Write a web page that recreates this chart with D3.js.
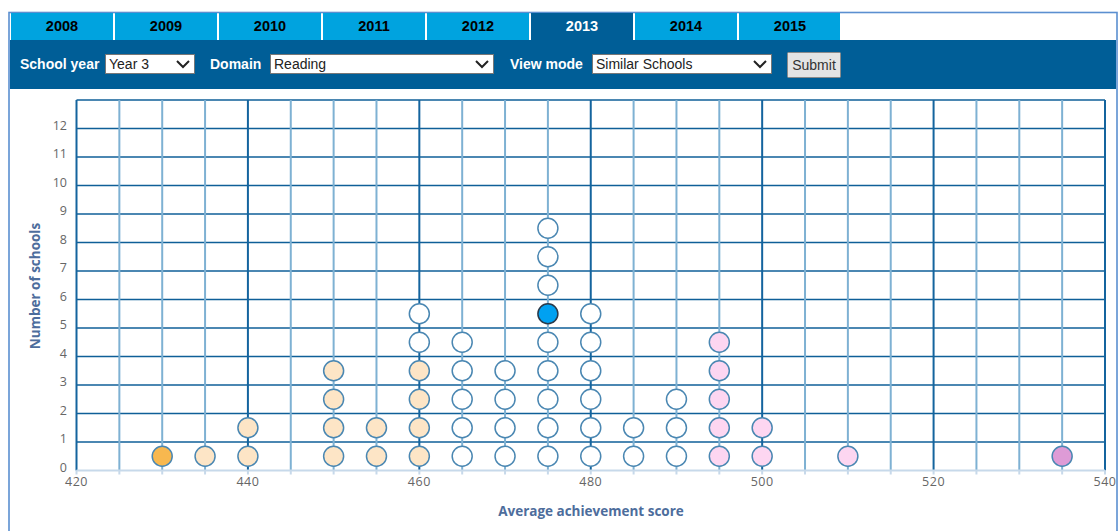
<html>
<head>
<title>Similar schools - Reading</title>
<style>
  body { margin: 0; background: #fff; }
  svg { display: block; }
</style>
</head>
<body>
<svg id="chart" width="1120" height="531"></svg>
<script src="https://cdnjs.cloudflare.com/ajax/libs/d3/7.8.5/d3.min.js"></script>
<script>
// tabs and filters
var years = ["2008","2009","2010","2011","2012","2013","2014","2015"];
var selectedYear = "2013";
var filterLabels = ["School year","Domain","View mode"];
var filterValues = ["Year 3","Reading","Similar Schools"];

// one column per score, circles stacked from the lowest band upward
var scores    = [430,435,440,450,455,460,465,470,475,480,485,490,495,500,510,535];
var wellBelow = [1,  0,  0,  0,  0,  0,  0,  0,  0,  0,  0,  0,  0,  0,  0,  0];
var below     = [0,  1,  2,  4,  2,  4,  0,  0,  0,  0,  0,  0,  0,  0,  0,  0];
var similar   = [0,  0,  0,  0,  0,  2,  5,  4,  9,  6,  2,  3,  0,  0,  0,  0];
var above     = [0,  0,  0,  0,  0,  0,  0,  0,  0,  0,  0,  0,  5,  2,  1,  0];
var wellAbove = [0,  0,  0,  0,  0,  0,  0,  0,  0,  0,  0,  0,  0,  0,  0,  1];
var thisSchoolScore = 475, thisSchoolRow = 6;

var xTicks = [420,440,460,480,500,520,540];
var yTicks = [0,1,2,3,4,5,6,7,8,9,10,11,12];

var bands = [
  {name: "wellBelow", counts: wellBelow, fill: "#f8b84f"},
  {name: "below",     counts: below,     fill: "#fde5c6"},
  {name: "similar",   counts: similar,   fill: "#ffffff"},
  {name: "above",     counts: above,     fill: "#fdd6f1"},
  {name: "wellAbove", counts: wellAbove, fill: "#de9bd6"}
];

var svg = d3.select("#chart");
var dark = "#005e97", light = "#00a3df";

// ---- widget frame, tabs, filter bar
svg.append("rect").attr("x", 9).attr("y", 12.5).attr("width", 1108).attr("height", 540)
  .attr("fill", "#fff").attr("stroke", "#5b8fd0").attr("stroke-width", 1.6);

var tabs = svg.selectAll("g.tab").data(years).enter().append("g").attr("class", "tab")
  .attr("transform", function(d, i) { return "translate(" + (11 + i * 104) + ",13)"; });
tabs.append("rect").attr("width", function(d, i) { return i == years.length - 1 ? 101 : 102; }).attr("height", 27)
  .attr("fill", function(d) { return d == selectedYear ? dark : light; });
tabs.append("text").attr("x", 51).attr("y", 18).attr("text-anchor", "middle")
  .style("font", "bold 14.5px 'Liberation Sans', Arial, sans-serif")
  .attr("fill", function(d) { return d == selectedYear ? "#fff" : "#000"; })
  .text(function(d) { return d; });

svg.append("rect").attr("x", 10).attr("y", 40).attr("width", 1106).attr("height", 49).attr("fill", dark);

var labelX = [20, 210, 510];
var boxX = [105, 270, 592], boxW = [89, 223, 179];
filterLabels.forEach(function(l, i) {
  svg.append("text").attr("x", labelX[i]).attr("y", 69)
    .style("font", "bold 14px 'Liberation Sans', Arial, sans-serif").attr("fill", "#fff").text(l);
  svg.append("rect").attr("x", boxX[i] + 0.5).attr("y", 54.5).attr("width", boxW[i]).attr("height", 19)
    .attr("fill", "#fff").attr("stroke", "#777");
  svg.append("text").attr("x", boxX[i] + 4).attr("y", 69)
    .style("font", "14px 'Liberation Sans', Arial, sans-serif").attr("fill", "#222").text(filterValues[i]);
  var cx = boxX[i] + boxW[i] - 11;
  svg.append("path").attr("d", "M" + (cx - 6) + ",61 L" + cx + ",67 L" + (cx + 6) + ",61")
    .attr("fill", "none").attr("stroke", "#222").attr("stroke-width", 2);
});
svg.append("rect").attr("x", 787.5).attr("y", 52.5).attr("width", 53).attr("height", 25).attr("rx", 1)
  .attr("fill", "#e4e4e4").attr("stroke", "#8a8a8a");
svg.append("text").attr("x", 814).attr("y", 70).attr("text-anchor", "middle")
  .style("font", "14px 'Liberation Sans', Arial, sans-serif").attr("fill", "#333").text("Submit");

// ---- chart
var x = d3.scaleLinear().domain([420, 540]).range([76.5, 1105]);
var y = d3.scaleLinear().domain([0, 13]).range([470.5, 100]);

var grid = svg.append("g");
grid.selectAll("line.h").data(d3.range(1, 14)).enter().append("line")
  .attr("x1", x(420)).attr("x2", x(540)).attr("y1", function(d) { return y(d); }).attr("y2", function(d) { return y(d); })
  .attr("stroke", "#0f5f98").attr("stroke-width", 1.5);
grid.selectAll("line.v").data(d3.range(420, 541, 5)).enter().append("line")
  .attr("x1", function(d) { return x(d); }).attr("x2", function(d) { return x(d); })
  .attr("y1", y(13)).attr("y2", y(0))
  .attr("stroke", function(d) { return (d % 20 == 0) ? "#14649e" : "#7eb1d3"; })
  .attr("stroke-width", 2);
grid.selectAll("line.t").data(d3.range(420, 541, 5)).enter().append("line")
  .attr("x1", function(d) { return x(d); }).attr("x2", function(d) { return x(d); })
  .attr("y1", y(0)).attr("y2", y(0) + 4).attr("stroke", "#c7d9ea").attr("stroke-width", 2);
grid.append("line").attr("x1", x(420)).attr("x2", x(540)).attr("y1", y(0)).attr("y2", y(0))
  .attr("stroke", "#c7d9ea").attr("stroke-width", 2);

var tickFont = "12.5px 'Open Sans', sans-serif";
svg.selectAll("text.yt").data(yTicks).enter().append("text")
  .attr("x", 67).attr("y", function(d) { return y(d) - 2; }).attr("text-anchor", "end").attr("dominant-baseline", "middle")
  .style("font", tickFont).attr("fill", "#666").text(function(d) { return d; });
svg.selectAll("text.xt").data(xTicks).enter().append("text")
  .attr("x", function(d) { return x(d); }).attr("y", 486).attr("text-anchor", "middle")
  .style("font", tickFont).style("letter-spacing", "0.5px").attr("fill", "#666").text(function(d) { return d; });

var titleFont = "bold 13.5px 'Open Sans', sans-serif";
svg.append("text").attr("x", 591).attr("y", 516).attr("text-anchor", "middle")
  .style("font", titleFont).attr("fill", "#4d6d9c").text("Average achievement score");
svg.append("text").attr("transform", "translate(40,286) rotate(-90)").attr("text-anchor", "middle")
  .style("font", titleFont).attr("fill", "#4d6d9c").text("Number of schools");

// build the stacked dots
var dots = [];
scores.forEach(function(s, i) {
  var row = 0;
  bands.forEach(function(b) {
    for (var k = 0; k < b.counts[i]; k++) {
      row++;
      dots.push({score: s, row: row, fill: b.fill});
    }
  });
});

svg.append("g").selectAll("circle").data(dots).enter().append("circle")
  .attr("cx", function(d) { return x(d.score); })
  .attr("cy", function(d) { return y(d.row - 0.5); })
  .attr("r", 10)
  .attr("fill", function(d) { return (d.score == thisSchoolScore && d.row == thisSchoolRow) ? "#00a1f1" : d.fill; })
  .attr("stroke", function(d) { return (d.score == thisSchoolScore && d.row == thisSchoolRow) ? "#2a3a4a" : "#4a87b2"; })
  .attr("stroke-width", 1.5);
</script>
</body>
</html>
